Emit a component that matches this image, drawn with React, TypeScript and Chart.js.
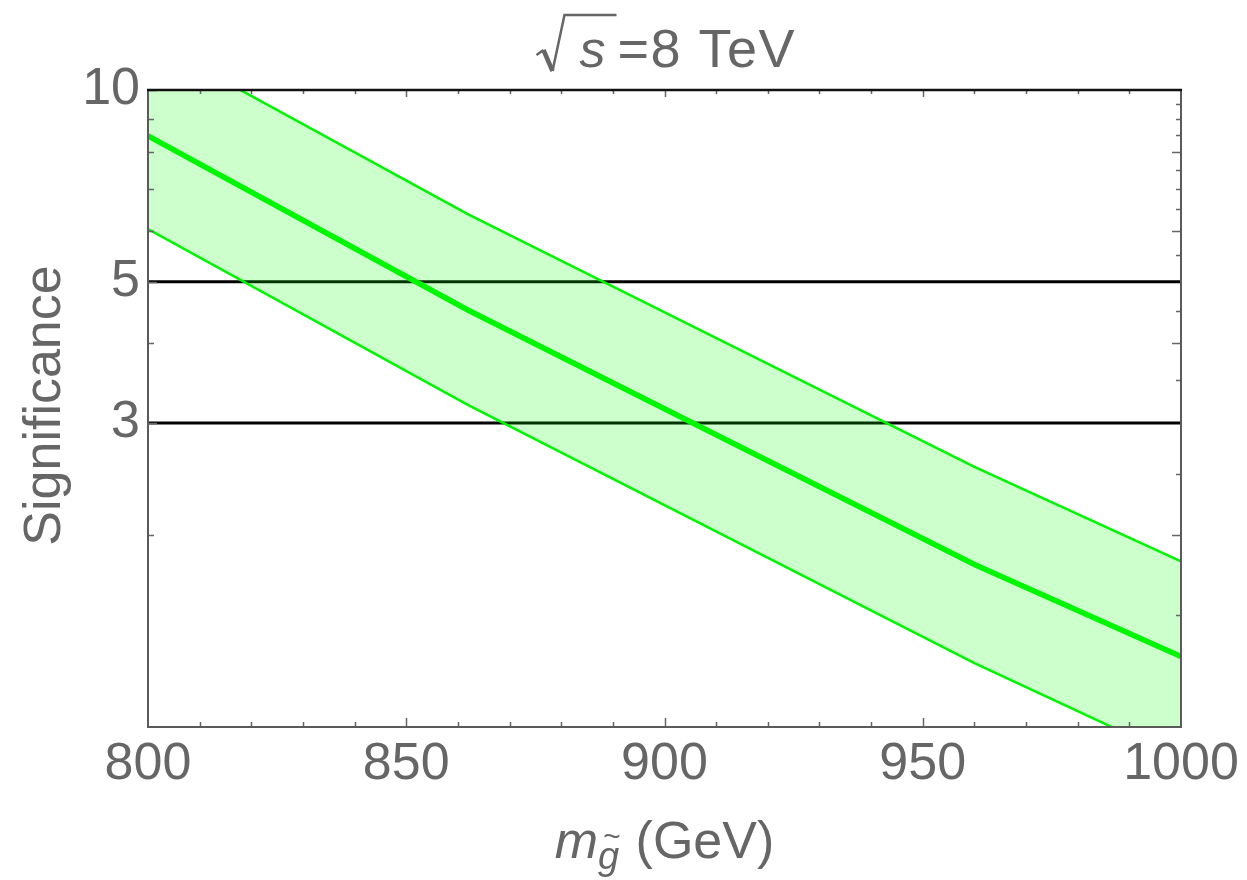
import React, { useEffect, useRef } from "react";
import { Chart, registerables } from "chart.js";

Chart.register(...registerables);

// ---- data ----
const massPoints = [800, 862, 960, 1000];
const centralSig = [8.47, 4.51, 1.8, 1.29];
const upperSig = [12.0, 6.38, 2.56, 1.82];
const lowerSig = [6.05, 3.2, 1.26, 0.89];
const thresholds = [3, 5];
const xRange = [800, 1000];
const yRange = [1, 10];
const yTickLabels = [3, 5, 10];
const yLeftMinor = [2, 4, 6, 7, 8, 9];
const yRightTicks = [1.5, 2, 2.5, 3.5, 4, 4.5, 5.5, 6, 6.5, 7, 7.5, 8, 8.5, 9, 9.5];
const yRightLong = [2, 4, 6, 8];
const xMinorStep = 10;
const xMajorStep = 50;

const titleText = "=8 TeV";
const yTitle = "Significance";
const xTitleMain = "m";
const xTitleSub = "g";
const xTitleUnit = " (GeV)";

const FONT = "'Liberation Sans', Arial, Helvetica, sans-serif";
const TEXT = "#666666";

const pts = (ys: number[]) => massPoints.map((x, i) => ({ x, y: ys[i] }));

const decorPlugin = {
  id: "decor",
  afterDraw(chart: any) {
    const { ctx, chartArea: a, scales } = chart;
    const xs = scales.x;
    const ys = scales.y;
    ctx.save();

    // tick marks (inside the frame)
    ctx.strokeStyle = "#666666";
    ctx.lineWidth = 1.5;
    ctx.beginPath();
    for (let v = xRange[0] + xMinorStep; v < xRange[1]; v += xMinorStep) {
      const px = Math.round(xs.getPixelForValue(v)) + 0.5;
      const major = v % xMajorStep === 0;
      ctx.moveTo(px, a.bottom);
      ctx.lineTo(px, a.bottom - (major ? 9 : 5));
      ctx.moveTo(px, a.top);
      ctx.lineTo(px, a.top + (major ? 7 : 4));
    }
    for (const v of yLeftMinor) {
      const py = Math.round(ys.getPixelForValue(v)) + 0.5;
      ctx.moveTo(a.left, py);
      ctx.lineTo(a.left + 6, py);
    }
    for (const v of yTickLabels) {
      const py = Math.round(ys.getPixelForValue(v)) + 0.5;
      ctx.moveTo(a.left, py);
      ctx.lineTo(a.left + 9, py);
    }
    for (const v of yRightTicks) {
      const py = Math.round(ys.getPixelForValue(v)) + 0.5;
      const long = yRightLong.includes(v);
      ctx.moveTo(a.right, py);
      ctx.lineTo(a.right - (long ? 9 : 5), py);
    }
    ctx.stroke();

    // frame
    ctx.lineWidth = 2;
    ctx.strokeStyle = "#5a5a5a";
    ctx.beginPath();
    ctx.moveTo(a.left, a.top);
    ctx.lineTo(a.left, a.bottom);
    ctx.lineTo(a.right, a.bottom);
    ctx.lineTo(a.right, a.top);
    ctx.stroke();
    ctx.strokeStyle = "#111111";
    ctx.lineWidth = 2.5;
    ctx.beginPath();
    ctx.moveTo(a.left - 1, a.top);
    ctx.lineTo(a.right + 1, a.top);
    ctx.stroke();

    // title: sqrt(s) = 8 TeV
    ctx.fillStyle = TEXT;
    ctx.strokeStyle = TEXT;
    const cx = (a.left + a.right) / 2;
    const x0 = cx - 128;
    const base = 67;
    // radical sign
    ctx.lineCap = "butt";
    ctx.lineJoin = "miter";
    ctx.lineWidth = 2.5;
    ctx.beginPath();
    ctx.moveTo(x0, 55);
    ctx.lineTo(x0 + 7, 50);
    ctx.stroke();
    ctx.lineWidth = 4.5;
    ctx.beginPath();
    ctx.moveTo(x0 + 7, 50);
    ctx.lineTo(x0 + 16, 71);
    ctx.stroke();
    ctx.lineWidth = 2.5;
    ctx.beginPath();
    ctx.moveTo(x0 + 16, 71);
    ctx.lineTo(x0 + 28, 15);
    ctx.lineTo(x0 + 80, 15);
    ctx.stroke();
    ctx.font = `italic 52px ${FONT}`;
    ctx.textAlign = "left";
    ctx.textBaseline = "alphabetic";
    ctx.fillText("s", x0 + 43, base);
    ctx.font = `54px ${FONT}`;
    (ctx as any).letterSpacing = "1.5px";
    ctx.fillText(titleText, x0 + 81, base);
    (ctx as any).letterSpacing = "0px";

    // y title
    ctx.save();
    ctx.translate(60, (a.top + a.bottom) / 2 - 3);
    ctx.rotate(-Math.PI / 2);
    ctx.textAlign = "center";
    ctx.font = `52px ${FONT}`;
    ctx.fillText(yTitle, 0, 0);
    ctx.restore();

    // x title: m_g~ (GeV)
    ctx.font = `italic 52px ${FONT}`;
    const wm = ctx.measureText(xTitleMain).width;
    ctx.font = `italic 38px ${FONT}`;
    const wg = ctx.measureText(xTitleSub).width;
    ctx.font = `52px ${FONT}`;
    const wu = ctx.measureText(xTitleUnit).width;
    const tot = wm + wg + 2 + wu;
    const xb = cx - tot / 2;
    const xBase = 858;
    ctx.font = `italic 52px ${FONT}`;
    ctx.fillText(xTitleMain, xb, xBase);
    ctx.font = `italic 38px ${FONT}`;
    ctx.fillText(xTitleSub, xb + wm, xBase + 11);
    // tilde over the g
    ctx.font = `italic 30px ${FONT}`;
    ctx.textAlign = "center";
    ctx.fillText("~", xb + wm + wg / 2 + 3, xBase - 12);
    ctx.textAlign = "left";
    ctx.font = `52px ${FONT}`;
    ctx.fillText(xTitleUnit, xb + wm + wg + 2, xBase);

    ctx.restore();
  },
};

export default function App() {
  const ref = useRef<HTMLCanvasElement | null>(null);

  useEffect(() => {
    if (!ref.current) return;
    const green = "rgb(0,245,0)";
    const chart = new Chart(ref.current, {
      type: "line",
      data: {
        datasets: [
          {
            label: "central",
            data: pts(centralSig),
            borderColor: green,
            borderWidth: 5.5,
            pointRadius: 0,
            tension: 0,
            fill: false,
            order: 1,
          },
          {
            label: "upper",
            data: pts(upperSig),
            borderColor: green,
            borderWidth: 2.5,
            pointRadius: 0,
            tension: 0,
            fill: { target: 2 },
            backgroundColor: "rgba(0,255,0,0.2)",
            order: 5,
          },
          {
            label: "lower",
            data: pts(lowerSig),
            borderColor: green,
            borderWidth: 2.5,
            pointRadius: 0,
            tension: 0,
            fill: false,
            order: 4,
          },
          ...thresholds.map((t) => ({
            label: `threshold ${t}`,
            data: [
              { x: xRange[0], y: t },
              { x: xRange[1], y: t },
            ],
            borderColor: "#000000",
            borderWidth: 3,
            pointRadius: 0,
            tension: 0,
            fill: false,
            order: 10,
          })),
        ],
      },
      options: {
        animation: false,
        responsive: false,
        devicePixelRatio: 1,
        layout: { padding: { left: 0, top: 90, right: 66, bottom: 0 } },
        plugins: {
          legend: { display: false },
          tooltip: { enabled: false },
          title: { display: false },
        },
        scales: {
          x: {
            type: "linear",
            min: xRange[0],
            max: xRange[1],
            grid: { display: false, drawTicks: false },
            border: { display: false },
            ticks: {
              stepSize: 50,
              color: TEXT,
              padding: 6,
              maxRotation: 0,
              autoSkip: false,
              font: { size: 52, family: FONT },
              callback: (v: any) => String(v),
            },
            afterFit: (s: any) => {
              s.height = 153;
            },
          },
          y: {
            type: "logarithmic",
            min: yRange[0],
            max: yRange[1],
            grid: { display: false, drawTicks: false },
            border: { display: false },
            afterBuildTicks: (s: any) => {
              s.ticks = yTickLabels.map((v) => ({ value: v }));
            },
            ticks: {
              color: TEXT,
              padding: 8,
              autoSkip: false,
              font: { size: 52, family: FONT },
              callback: (v: any) => String(v),
            },
            afterFit: (s: any) => {
              s.width = 148;
            },
          },
        },
      },
      plugins: [decorPlugin],
    });
    return () => chart.destroy();
  }, []);

  return (
    <div style={{ position: "absolute", left: 0, top: 0, width: 1247, height: 880, background: "#fff" }}>
      <canvas ref={ref} width={1247} height={880} style={{ width: 1247, height: 880 }} />
    </div>
  );
}
